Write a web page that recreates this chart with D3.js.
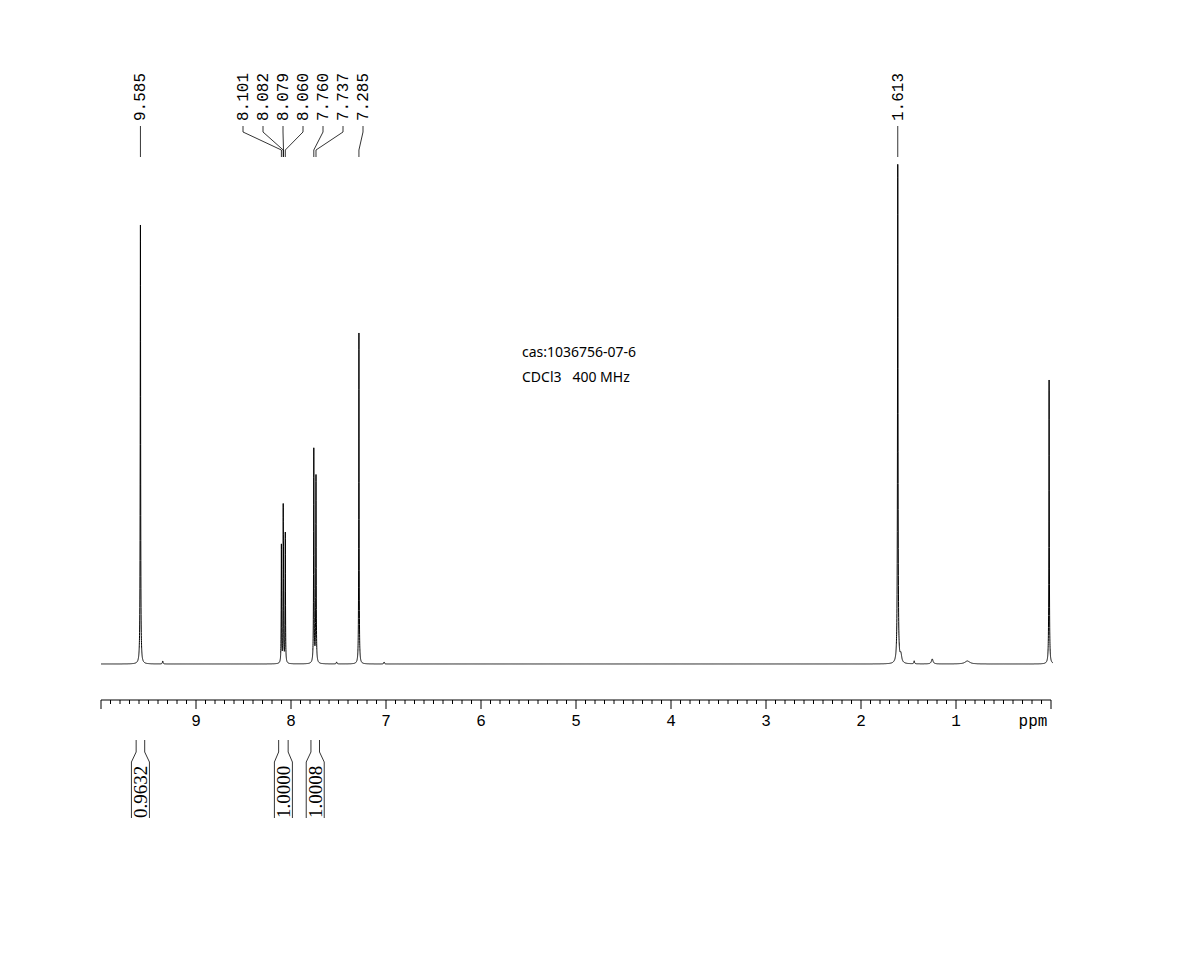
<!DOCTYPE html>
<html><head><meta charset="utf-8">
<script src="https://cdn.jsdelivr.net/npm/d3@7"></script>
<style>body{margin:0;background:#fff}</style></head>
<body><svg id="c" width="1187" height="953"></svg>
<script>
// peak list: shift (ppm), height, half-width (ppm)
const peakShifts = [9.585, 8.101, 8.082, 8.079, 8.060, 7.760, 7.737, 7.285, 1.613, 1.58, 1.25, 0.88, 0.02, 9.35, 7.52, 7.02, 1.44];
const peakHeights = [439, 118, 137, 78, 130, 214, 187, 331, 499, 8, 5, 3, 284, 3, 2, 2, 3];
const peakWidths = [0.0025, 0.0022, 0.0018, 0.0018, 0.0022, 0.0025, 0.0025, 0.0022, 0.003, 0.01, 0.01, 0.03, 0.0025, 0.004, 0.004, 0.004, 0.004];
const peakLabels = ["9.585", "8.101", "8.082", "8.079", "8.060", "7.760", "7.737", "7.285", "1.613"];
const integrals = [[9.63, 9.54, "0.9632"], [8.13, 8.03, "1.0000"], [7.79, 7.70, "1.0008"]];
const xTicks = [1, 2, 3, 4, 5, 6, 7, 8, 9];

const svg = d3.select("#c");
const x = d3.scaleLinear().domain([10, 0]).range([101, 1051]);
const y = d3.scaleLinear().domain([0, 500]).range([664, 164]);

// spectrum trace
const pts = [];
for (let p = 10; p >= -0.05; p -= 0.0005) {
    let v = 0;
    peakShifts.forEach((s, i) => {
        const w = peakWidths[i], d = p - s;
        v += peakHeights[i] * w * w / (d * d + w * w);
    });
    pts.push([p, v]);
}
svg.append("path")
    .attr("d", d3.line().x(d => x(d[0])).y(d => y(d[1]))(pts.filter(d => x(d[0]) <= 1053)))
    .attr("fill", "none").attr("stroke", "#000").attr("stroke-width", 1);

// axis
const ax = svg.append("g").attr("transform", "translate(0,700)");
ax.append("line").attr("x1", x(10)).attr("x2", x(0)).attr("stroke", "#000");
const minor = d3.range(0, 101).map(i => i / 10);
ax.selectAll(".mt").data(minor).join("line")
    .attr("x1", d => x(d)).attr("x2", d => x(d))
    .attr("y2", d => Math.abs(d - Math.round(d)) < 1e-6 ? 9 : 4)
    .attr("stroke", "#000");
ax.selectAll(".tl").data(xTicks).join("text")
    .attr("x", d => x(d)).attr("y", 26).attr("text-anchor", "middle")
    .attr("font-family", "Liberation Mono, Courier New, monospace").attr("font-size", 16)
    .text(d => d);
ax.append("text").attr("x", 1033).attr("y", 26).attr("text-anchor", "middle")
    .attr("font-family", "Liberation Mono, monospace").attr("font-size", 16).text("ppm");

// peak labels
const lab = svg.append("g");
peakLabels.forEach((t, i) => {
    const px = x(+t);
    const lx = i === 0 ? px : (i === 8 ? px : 243 + (i - 1) * 20);
    lab.append("text")
        .attr("transform", `translate(${lx + 5},121) rotate(-90)`)
        .attr("font-family", "Liberation Mono, Courier New, monospace").attr("font-size", 16)
        .text(t);
    lab.append("path")
        .attr("d", `M${lx},126 L${lx},132 L${px},150 L${px},157`)
        .attr("fill", "none").attr("stroke", "#000").attr("stroke-width", 0.8);
});

// integrals
integrals.forEach(([a, b, t]) => {
    const xa = x(a), xb = x(b), m = (xa + xb) / 2;
    const g = svg.append("g");
    g.append("path")
        .attr("d", `M${xa},740 L${xa},752 L${m - 9},762 L${m - 9},818 M${xb},740 L${xb},752 L${m + 9},762 L${m + 9},818`)
        .attr("fill", "none").attr("stroke", "#000").attr("stroke-width", 0.8);
    g.append("text")
        .attr("transform", `translate(${m + 7},818) rotate(-90)`)
        .attr("font-family", "Liberation Serif, Times New Roman, serif").attr("font-size", 19)
        .text(t);
});

// annotation
svg.append("text").attr("x", 522).attr("y", 357).attr("font-family", "Noto Sans, sans-serif").attr("font-size", 14).text("cas:1036756-07-6");
svg.append("text").attr("x", 522).attr("y", 382).attr("font-family", "Noto Sans, sans-serif").attr("font-size", 14).attr("xml:space", "preserve").text("CDCl3   400 MHz");
</script></body></html>
